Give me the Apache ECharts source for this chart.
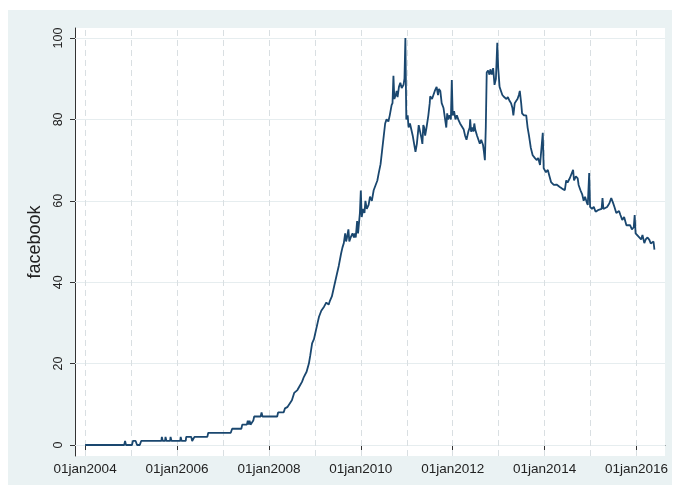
<!DOCTYPE html>
<html><head><meta charset="utf-8">
<script src="https://cdn.jsdelivr.net/npm/echarts@6/dist/echarts.min.js"></script>
<style>html,body{margin:0;padding:0;background:#fff}#c{width:674px;height:490px}</style>
</head><body><div id="c"></div><script>
// time in fractional years
const years = [
2004.00,2004.85,2004.87,2004.89,2005.02,2005.04,2005.10,2005.13,2005.19,2005.22,
2005.66,2005.67,2005.69,2005.74,2005.75,2005.77,2005.85,2005.86,2005.88,2006.07,2006.08,2006.10,
2006.19,2006.20,2006.31,2006.33,2006.36,2006.38,2006.44,2006.45,2006.66,2006.68,2007.17,2007.20,
2007.40,2007.42,2007.52,2007.54,2007.56,2007.58,2007.60,2007.66,2007.68,2007.82,2007.84,2007.86,
2008.18,2008.20,2008.32,2008.35,2008.40,2008.50,2008.55,2008.62,2008.66,2008.72,2008.76,2008.82,
2008.87,2008.90,2008.94,2008.98,2009.02,2009.06,2009.09,2009.14,2009.20,2009.25,2009.30,2009.33,
2009.37,2009.42,2009.48,2009.52,2009.57,2009.60,2009.63,2009.66,2009.68,2009.70,2009.73,2009.75,
2009.78,2009.82,2009.85,2009.87,2009.89,2009.92,2009.94,2009.98,2010.00,2010.02,2010.05,2010.08,
2010.10,2010.13,2010.17,2010.20,2010.24,2010.28,2010.32,2010.36,2010.39,2010.43,2010.46,2010.50,
2010.53,2010.56,2010.60,2010.63,2010.67,2010.69,2010.71,2010.73,2010.76,2010.78,2010.80,2010.83,
2010.86,2010.89,2010.93,2010.95,2010.97,2010.99,2011.02,2011.04,2011.07,2011.10,2011.13,2011.16,
2011.19,2011.22,2011.26,2011.29,2011.32,2011.34,2011.36,2011.38,2011.40,2011.43,2011.47,2011.50,
2011.51,2011.55,2011.58,2011.61,2011.65,2011.68,2011.70,2011.73,2011.76,2011.80,2011.83,2011.86,
2011.88,2011.90,2011.93,2011.96,2011.98,2012.00,2012.03,2012.06,2012.09,2012.12,2012.16,2012.20,
2012.24,2012.27,2012.30,2012.34,2012.37,2012.38,2012.40,2012.43,2012.45,2012.47,2012.49,2012.53,
2012.56,2012.59,2012.62,2012.66,2012.68,2012.70,2012.72,2012.74,2012.77,2012.80,2012.82,2012.85,
2012.88,2012.91,2012.94,2012.97,2012.99,2013.02,2013.05,2013.08,2013.12,2013.17,2013.20,2013.24,
2013.27,2013.30,2013.32,2013.35,2013.38,2013.41,2013.44,2013.46,2013.49,2013.51,2013.55,2013.60,
2013.63,2013.66,2013.70,2013.74,2013.79,2013.83,2013.86,2013.90,2013.94,2013.96,2013.98,2014.03,
2014.07,2014.10,2014.14,2014.20,2014.26,2014.33,2014.38,2014.44,2014.47,2014.50,2014.55,2014.59,
2014.62,2014.64,2014.68,2014.72,2014.74,2014.78,2014.82,2014.85,2014.88,2014.92,2014.94,2014.97,
2014.99,2015.03,2015.07,2015.11,2015.16,2015.20,2015.24,2015.26,2015.28,2015.32,2015.36,2015.41,
2015.45,2015.49,2015.52,2015.56,2015.59,2015.62,2015.65,2015.69,2015.73,2015.78,2015.82,2015.86,
2015.90,2015.94,2015.96,2015.98,2016.02,2016.06,2016.10,2016.13,2016.17,2016.20,2016.24,2016.28,
2016.31,2016.35,2016.37,2016.39
];
const values = [
0,0,1,0,0,1,1,0,0,1,
1,2,1,1,2,1,1,2,1,1,2,1,
1,2,2,1,1,2,2,2,2,3,3,4,
4,5,5,6,5,6,5,6,7,7,8,7,
7,8,8,9,9.3,11,12.8,13.5,14.3,15.5,16.7,18,
20,22,25,26,28,30,31.5,33,34,35,34.5,35.5,
36.5,39,42,44,47,48.5,49.6,52,50,51,53,50,
51,52,51,52,51,55,52,57,62.5,56,58,57,
60,58,59,61,60,62.6,63,65,66.8,69,72,76,
79,80,79.5,81,83.5,84,90.7,85,86,87,85.5,88,
89,87.7,88.5,90,100,80,81,78,79,78.6,76,74,
72,74,78.6,77,75.4,74,78.6,78,76,78,81,84,
85.7,85,85,87,88,86,87.5,87,84,82.8,83,78,
81.5,80,81,80,89.7,81,82,80,81,80,79,78.6,
77.5,76,75,77,78,80,77,78,77,79,77.5,76,
75,74,75,73.7,72,70,78,91.5,92,91,92.3,91,
92.6,88.5,90,98.8,92.6,88,87,86,85.5,85,85.5,84.5,
84,82.8,81,84,84.5,85,86,87,84,81.5,81,81,
78,76,73,71.2,70.5,70,70.5,68.8,69,76.7,68,67,
67.6,66.3,64.6,63.9,64,63.4,63,62.6,65,64.5,65.6,65.5,
67.6,65,66,65.5,63.9,62.6,61.5,60,61,59.5,59,66.8,
58.5,58,58.5,57.3,57.7,57.7,58,60.7,58,57.7,58.5,59.4,
60.7,59.5,58.5,57,56.8,57.5,56.5,55.3,56,54,53.6,54,
53,53.5,56.5,52,52,51,50.5,51.6,49.6,50.5,51,50.4,
49.5,49.6,50,48
];
const xLabelYears = [2004,2006,2008,2010,2012,2014,2016];
const xGridYears = [2004,2005,2006,2007,2008,2009,2010,2011,2012,2013,2014,2015,2016];
const yTicks = [0,20,40,60,80,100];
const yTitle = 'facebook';

const FONT = 'Liberation Sans, Arial, sans-serif';
const chart = echarts.init(document.getElementById('c'), null, {renderer:'canvas'});
const data = years.map((y,i)=>[y, values[i]]);
chart.setOption({
  backgroundColor:'#ffffff',
  animation:false,
  graphic:[{type:'rect', shape:{x:8,y:10,width:664,height:475}, style:{fill:'#eaf2f3'}, z:-10, silent:true}],
  grid:{left:75,right:9,top:28,bottom:34,show:true,backgroundColor:'#ffffff',borderWidth:0},
  xAxis:{type:'value',min:2003.78,max:2016.62,
    axisLine:{lineStyle:{color:'#333333',width:1}},
    axisTick:{customValues:xLabelYears,length:5,lineStyle:{color:'#333333'}},
    axisLabel:{customValues:xLabelYears,formatter:v=>'01jan'+v,fontFamily:FONT,fontSize:13.5,color:'#222',margin:6},
    splitLine:{show:false}},
  yAxis:{type:'value',min:-2.7,max:102.46,
    name:yTitle,nameLocation:'middle',nameGap:29,
    nameTextStyle:{fontFamily:FONT,fontSize:18,color:'#222'},
    axisLine:{show:true,lineStyle:{color:'#333333',width:1}},
    axisTick:{show:true,customValues:yTicks,length:5,lineStyle:{color:'#333333'}},
    axisLabel:{customValues:yTicks,rotate:90,fontFamily:FONT,fontSize:12.5,color:'#222',margin:10},
    splitLine:{show:false}},
  series:[
    {type:'line',data:[],z:1,silent:true,
     markLine:{silent:true,symbol:'none',label:{show:false},animation:false,z:1,
       data:[
         ...yTicks.map(v=>({yAxis:v,lineStyle:{type:'solid',color:'#e6edef',width:1}})),
         ...xGridYears.map(y=>({xAxis:y,lineStyle:{type:[6,4],color:'#d9dfe2',width:1}}))
       ]}},
    {type:'line',data:data,z:10,showSymbol:false,symbol:'none',
     lineStyle:{color:'#1a476f',width:1.8},itemStyle:{color:'#1a476f'}}
  ]
});
</script></body></html>
